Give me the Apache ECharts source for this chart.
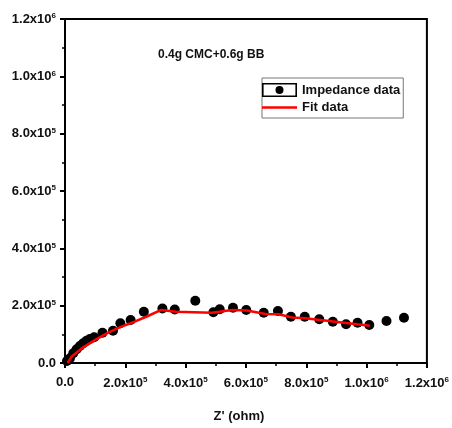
<!DOCTYPE html>
<html>
<head>
<meta charset="utf-8">
<script src="https://cdn.jsdelivr.net/npm/echarts@6/dist/echarts.min.js"></script>
<style>
  html, body { margin: 0; padding: 0; background: #fff; }
  #chart { width: 452px; height: 428px; }
</style>
</head>
<body>
<div id="chart"></div>
<script>
// Measured impedance: Z' (real) and -Z'' (imaginary), ohm
const zReal = [6.6e3, 16.5e3, 27.4e3, 38.6e3, 49.5e3, 60.3e3, 71.5e3, 82.4e3, 96.6e3,
  124.3e3, 159.2e3, 183.6e3, 217.6e3, 261.5e3, 323e3, 364e3, 432e3, 492e3, 513e3,
  557e3, 601e3, 659e3, 706e3, 749e3, 795e3, 843e3, 888e3, 932e3, 970e3, 1009e3,
  1066e3, 1124e3];
const zImag = [7.0e3, 16.4e3, 33.8e3, 47.8e3, 59.3e3, 68.7e3, 77.8e3, 83.7e3, 89.6e3,
  105.7e3, 112.7e3, 138.5e3, 150e3, 178.9e3, 190e3, 186.6e3, 217.3e3, 176.8e3, 187.3e3,
  192.9e3, 184.9e3, 175.4e3, 181.4e3, 161.5e3, 161.5e3, 152.4e3, 144e3, 135e3, 140.6e3,
  132.5e3, 146.5e3, 158e3];

// Equivalent-circuit fit
const fitReal = [9e3, 22e3, 55e3, 99e3, 143e3, 187e3, 231e3, 275e3, 319e3, 368e3,
  488e3, 554e3, 603e3, 665e3, 709e3, 753e3, 797e3, 1011e3];
const fitImag = [1e3, 22e3, 51e3, 80e3, 106e3, 127e3, 144e3, 164e3, 185e3, 179e3,
  175e3, 185e3, 183e3, 171e3, 170e3, 159e3, 156e3, 130e3];

const sampleName = '0.4g CMC+0.6g BB';
const xTitle = "Z' (ohm)";
const axisMax = 1.2e6;
const axisStep = 2e5;

const FONT = 'Liberation Sans, Arial, sans-serif';
const pairs = (xs, ys) => xs.map((x, i) => [x, ys[i]]);

// Tick labels in the form 2.0x10^5
function sciLabel(v) {
  if (v === 0) return '0.0';
  const e = Math.floor(Math.log10(v) + 1e-9);
  const m = v / Math.pow(10, e);
  return m.toFixed(1) + 'x10{sup|' + e + '}';
}

const labelRich = {
  sup: { fontSize: 8, fontWeight: 'bold', color: '#111', fontFamily: FONT, verticalAlign: 'top', padding: [0, 0, 6, 0] }
};

const axisCommon = {
  type: 'value',
  min: 0,
  max: axisMax,
  interval: axisStep,
  splitLine: { show: false },
  axisLine: { show: true, onZero: false, lineStyle: { color: '#000', width: 2 } },
  axisTick: { show: true, inside: false, length: 5, lineStyle: { color: '#000', width: 2 } },
  minorTick: { show: true, splitNumber: 2, length: 3, lineStyle: { color: '#000', width: 1.5 } },
  axisLabel: {
    formatter: sciLabel,
    color: '#111',
    fontSize: 13,
    fontWeight: 'bold',
    fontFamily: FONT,
    rich: labelRich
  }
};

// Legend icons: outlined box with a dot, and a plain red bar
const boxDotIcon = 'path://M0 0L35 0L35 14L0 14Z M1.6 1.6L1.6 12.4L33.4 12.4L33.4 1.6Z ' +
  'M13.5 7A4 4 0 1 0 21.5 7A4 4 0 1 0 13.5 7Z';
const barIcon = 'path://M0 0L35 0L35 2.5L0 2.5Z';

const chart = echarts.init(document.getElementById('chart'), null, { renderer: 'canvas' });

chart.setOption({
  backgroundColor: '#fff',
  animation: false,
  grid: {
    left: 65, right: 23, top: 19, bottom: 65,
    show: true, borderColor: '#000', borderWidth: 2, backgroundColor: 'transparent'
  },
  title: {
    text: sampleName,
    left: 153, top: 44,
    textStyle: { fontSize: 12, fontWeight: 'bold', color: '#111', fontFamily: FONT }
  },
  legend: {
    orient: 'vertical',
    left: 262, top: 78,
    padding: [5, 3, 4, 0],
    itemGap: 4,
    itemWidth: 35,
    itemHeight: 14,
    itemTextGap: 2,
    symbolKeepAspect: true,
    borderColor: '#777',
    borderWidth: 1,
    backgroundColor: '#fff',
    textStyle: { fontSize: 13, fontWeight: 'bold', color: '#111', fontFamily: FONT },
    data: [
      { name: 'Impedance data', icon: boxDotIcon, itemStyle: { color: '#000' } },
      { name: 'Fit data', icon: barIcon, itemStyle: { color: '#ff0000' } }
    ]
  },
  xAxis: Object.assign({}, axisCommon, {
    name: xTitle,
    nameLocation: 'middle',
    nameGap: 47,
    nameTextStyle: { fontSize: 13, fontWeight: 'bold', color: '#111', fontFamily: FONT, padding: [0, 14, 0, 0] },
    axisLabel: Object.assign({}, axisCommon.axisLabel, { margin: 13 })
  }),
  yAxis: Object.assign({}, axisCommon, {
    axisLabel: Object.assign({}, axisCommon.axisLabel, { margin: 9 })
  }),
  series: [
    {
      name: 'Impedance data',
      type: 'scatter',
      data: pairs(zReal, zImag),
      symbol: 'circle',
      symbolSize: 10,
      itemStyle: { color: '#000', opacity: 1 },
      z: 2
    },
    {
      name: 'Fit data',
      type: 'line',
      data: pairs(fitReal, fitImag),
      showSymbol: false,
      symbol: 'none',
      smooth: false,
      lineStyle: { color: '#ff0000', width: 2.5 },
      itemStyle: { color: '#ff0000' },
      z: 3
    }
  ]
});
</script>
</body>
</html>
